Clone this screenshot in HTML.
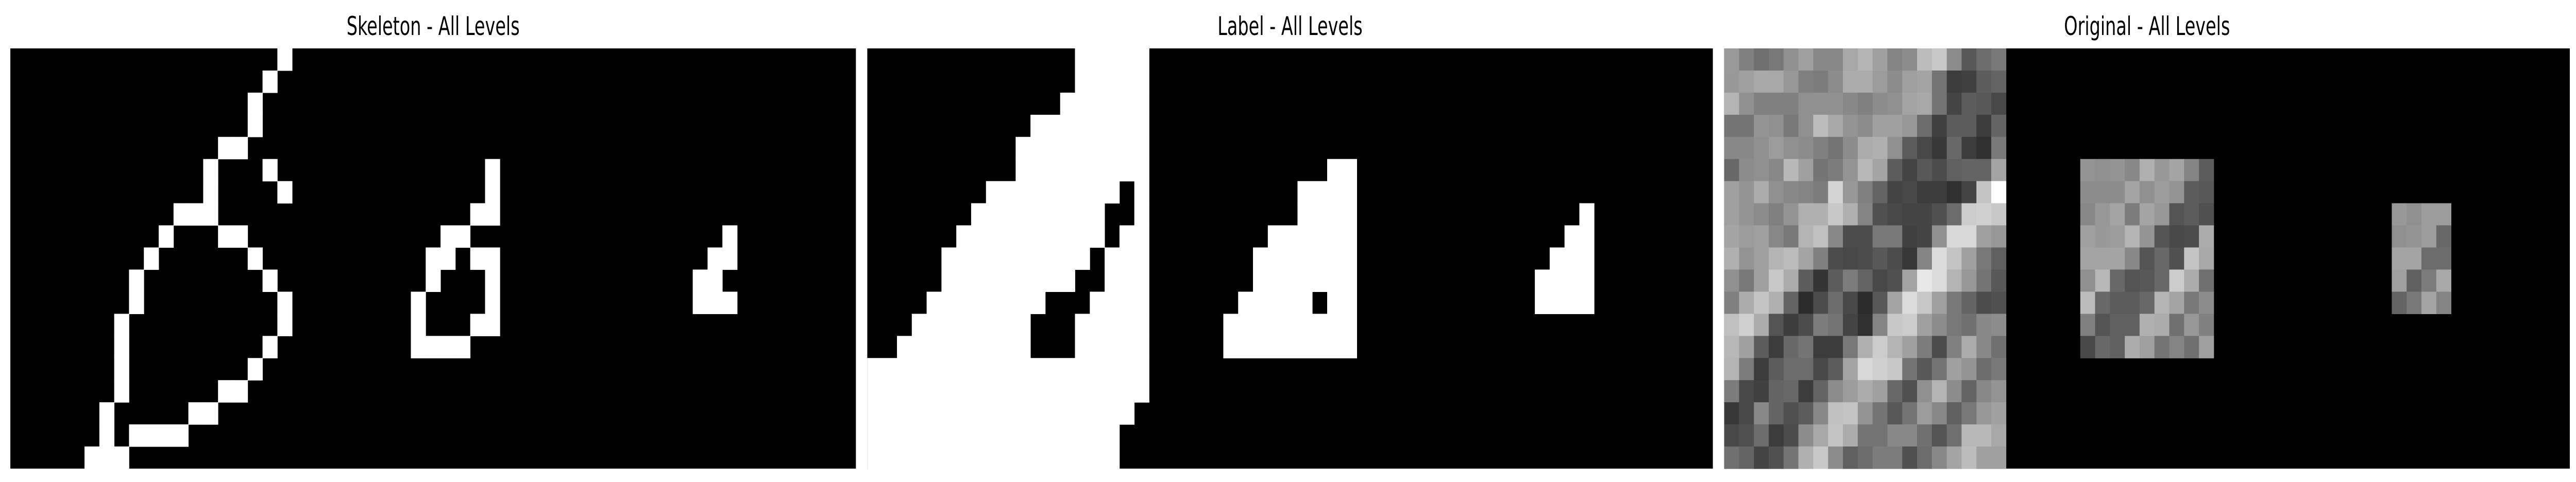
<!DOCTYPE html>
<html><head><meta charset="utf-8">
<style>
html,body{margin:0;padding:0;background:#fff;width:100vw;height:100vh;overflow:hidden;}
svg{display:block;width:100vw;height:100vh;}
</style></head>
<body>
<svg id="fig" viewBox="0 0 7470 936" preserveAspectRatio="none" xmlns="http://www.w3.org/2000/svg">
  <rect width="7470" height="936" fill="#fff"/>
  <text x="1256" y="68" text-anchor="middle" font-family="DejaVu Sans, Liberation Sans, sans-serif" font-size="50">Skeleton - All Levels</text>
  <text x="3741" y="68" text-anchor="middle" font-family="DejaVu Sans, Liberation Sans, sans-serif" font-size="50">Label - All Levels</text>
  <text x="6226" y="68" text-anchor="middle" font-family="DejaVu Sans, Liberation Sans, sans-serif" font-size="50">Original - All Levels</text>
  <g id="p1"></g>
  <g id="p2"></g>
  <g id="p3"></g>
</svg>
<script>
// grid geometry: 19 rows x 57 cols per panel
const nRows = 19;
const nCols = 57;

// Skeleton white pixels [row, col]
const skeletonCells = [
 [0,18],[1,17],[2,16],[3,16],[4,14],[4,15],
 [5,13],[5,17],[5,32],[6,13],[6,18],[6,32],
 [7,11],[7,12],[7,13],[7,31],[7,32],
 [8,10],[8,14],[8,15],[8,29],[8,30],[8,48],
 [9,9],[9,16],[9,28],[9,29],[9,31],[9,32],[9,47],[9,48],
 [10,8],[10,17],[10,28],[10,32],[10,46],[10,47],
 [11,8],[11,18],[11,27],[11,32],[11,46],[11,47],[11,48],
 [12,7],[12,18],[12,27],[12,31],[12,32],
 [13,7],[13,17],[13,27],[13,28],[13,29],[13,30],
 [14,7],[14,16],[15,7],[15,14],[15,15],
 [16,6],[16,12],[16,13],
 [17,6],[17,8],[17,9],[17,10],[17,11],
 [18,5],[18,6],[18,7]
];

// Label white runs [row, colStart, colEnd] inclusive
const labelRuns = [
 [0,14,18],[1,14,18],[2,13,18],[3,11,18],[4,10,18],[5,10,18],[5,31,32],
 [6,8,16],[6,18,18],[6,29,32],
 [7,7,15],[7,18,18],[7,29,32],[7,48,48],
 [8,6,15],[8,17,18],[8,27,32],[8,47,48],
 [9,5,14],[9,16,18],[9,26,32],[9,46,48],
 [10,5,13],[10,16,18],[10,26,32],[10,45,48],
 [11,4,11],[11,15,18],[11,25,29],[11,31,32],[11,45,48],
 [12,3,10],[12,14,18],[12,24,32],
 [13,2,10],[13,14,18],[13,24,32],
 [14,0,18],[15,0,18],[16,0,17],[17,0,16],[18,0,16]
];

// Original grayscale values (level 0: 19x19)
const origLevel0 = [
 "9a80707890a08888a8b4a0848cbcc88c586c78",
 "98a0a8a898807c8cacac9c8ca0a4743c405c64",
 "b49080808090909088808c90a4a874445c5848",
 "747494907890bca8948ca0a0986c405c5c3c64",
 "8888909c908c80748cacb0905c4838683c3078",
 "688c9088b8a0747c94b8a45c44584c606464a4",
 "a094ac9088847cd498806444483c3c3044c4ff",
 "a0948c8094b0b0c8b08450484444506cccd0c8",
 "a49ca08878b4c0884c4c7878404490d8d8a098",
 "b094a0b4bca4804c484c584c3884dcc4a07860",
 "9078a0c8ac5c345c7c644850a4e8dcb4987458",
 "80acc4b0642c4c6c482c58a4dcc8a078644c50",
 "c0d0ac543c4c7c74443084c8cca08c7870888c",
 "b8a05c3c68743c3c78b0ccb4a07c4c80ac8870",
 "b47c3c5c6c6c485ca4d8d0c8745874a0946c78",
 "7c484064683c648c9caca0685090b48c648894",
 "38488864505c88c0c4947458749c88607898a0",
 "48506c3c4c8ca8c4ac747488887054 70b8b8a8",
 "7064445074b0c88c606c7c7c506c88a4bca0a0"
];
// level 1: 9x9 at rows 5-13, cols 24-32
const origLevel1 = [
 "94909488b098a4845c",
 "8c8c8ca4909c945c58",
 "8898a47ca498545c50",
 "a0989cb49454484cac",
 "a4a4a488546850c4a8",
 "90b868545868ccac70",
 "bc685c5c68b4a4788c",
 "80546060b0ac709880",
 "486860aca0748470a0"
];
// level 2: 4 cols x 5 rows at rows 7-11, cols 45-48
const origLevel2 = [
 "98909c9c",
 "90949c68",
 "a4a46c6c",
 "a0607ca8",
 "6478a484"
];

const panelX = [30, 2515, 5000];
const panelY = 94;
const panelW = 2452;
const panelH = 816;
const NS = "http://www.w3.org/2000/svg";
const cw = panelW / nCols, ch = panelH / nRows;
function xs(p, c){ return panelX[p] + c * cw; }
function ys(r){ return panelY + r * ch; }
function mk(g, x, y, w, h, fill){
  const el = document.createElementNS(NS, "rect");
  el.setAttribute("x", x.toFixed(2)); el.setAttribute("y", y.toFixed(2));
  el.setAttribute("width", (w + 0.6).toFixed(2)); el.setAttribute("height", (h + 0.6).toFixed(2));
  el.setAttribute("fill", fill);
  g.appendChild(el);
  return el;
}
["p1","p2","p3"].forEach((id, p) => {
  const g = document.getElementById(id);
  const bg = mk(g, panelX[p], panelY, panelW - 0.6, panelH - 0.6, "#000");
  
  
});
const g1 = document.getElementById("p1");
skeletonCells.forEach(([r, c]) => {
  const el = mk(g1, xs(0, c), ys(r), cw, ch, "#fff");
  
  
});
const g2 = document.getElementById("p2");
labelRuns.forEach(([r, c0, c1]) => {
  const el = mk(g2, xs(1, c0), ys(r), (c1 - c0 + 1) * cw, ch, "#fff");
  
  
});
const g3 = document.getElementById("p3");
function drawLevel(rows, r0, c0){
  rows.forEach((raw, i) => {
    const s = raw.replace(/ /g, "");
    for (let j = 0; j < s.length / 2; j++) {
      const v = s.substr(j * 2, 2);
      const el = mk(g3, xs(2, c0 + j), ys(r0 + i), cw, ch, "#" + v + v + v);
      
      
    }
  });
}
drawLevel(origLevel0, 0, 0);
drawLevel(origLevel1, 5, 24);
drawLevel(origLevel2, 7, 45);
</script>
</body></html>
